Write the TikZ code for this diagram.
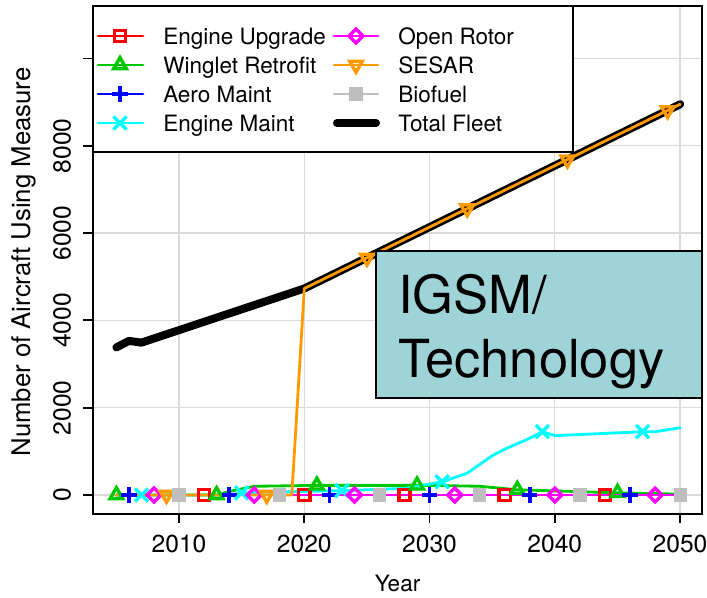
\documentclass[tikz,border=0pt]{standalone}
\usepackage{fontspec}
\setmainfont{TeX Gyre Heros}
\usetikzlibrary{plotmarks}
\definecolor{upgradered}{HTML}{FF0000}
\definecolor{wingletgreen}{HTML}{00C800}
\definecolor{aeroblue}{HTML}{0000FF}
\definecolor{maintcyan}{HTML}{00FFFF}
\definecolor{rotormagenta}{HTML}{FF00FF}
\definecolor{sesarorange}{HTML}{FF9A00}
\definecolor{biofuelgrey}{HTML}{BEBEBE}
\definecolor{gridgrey}{HTML}{DADADA}
\definecolor{igsmteal}{HTML}{9ED3D7}
\tikzset{
  gridline/.style={gridgrey, line width=1pt},
  tickmark/.style={line width=1.3pt},
  frame/.style={line width=2pt},
  ticklabel/.style={inner sep=0pt, font=\fontsize{17.5}{20}\selectfont},
  legtext/.style={anchor=base west, inner sep=0pt},
  series/.style={line width=2pt, line cap=round, line join=round},
  fleet/.style={line width=5.7pt, line cap=round, line join=round},
  every mark/.append style={line width=2.4pt},
  upmark/.style={mark=square, mark size=4pt},
  wingmark/.style={mark=triangle, mark size=5.2pt},
  aeromark/.style={mark=+, mark size=5.4pt},
  maintmark/.style={mark=x, mark size=6.6pt},
  rotormark/.style={mark=square, mark size=3.5pt, mark options={rotate=45, line width=2.4pt}},
  sesarmark/.style={mark=triangle, mark size=5.2pt, mark options={rotate=180, line width=2.4pt}},
  fuelmark/.style={mark=square*, mark size=4.4pt, mark options={fill=biofuelgrey, line width=0.6pt}},
}

\begin{document}
\begin{tikzpicture}[x=0.025cm, y=-0.025cm, font=\fontsize{16}{19}\selectfont]
  \useasboundingbox (0,0) rectangle (707,597);
  % grid, ticks and tick labels
  \foreach \yr in {2010,2020,...,2050} {
    \pgfmathsetmacro{\px}{179+(\yr-2010)*12.525}
    \draw[gridline] (\px,6) -- (\px,514);
    \draw[tickmark] (\px,514) -- (\px,523);
    \node[ticklabel] (x\yr) at (\px,543.5) {\yr};
  }
  \foreach \v in {0,2000,...,10000} {
    \pgfmathsetmacro{\py}{495-\v*0.04365}
    \draw[gridline] (93,\py) -- (702,\py);
    \draw[tickmark] (83,\py) -- (93,\py);
    \ifnum\v<10000 \node[ticklabel, rotate=90] (y\v) at (62,\py) {\v}; \fi
  }
  \node[anchor=base, inner sep=0pt] (xlabel) at (397.5,591.7) {Year};
  \node[anchor=base, inner sep=0pt, rotate=90, font=\fontsize{18.3}{21}\selectfont] (ylabel) at (30,262) {Number of Aircraft Using Measure};

  % series, origin at year 2000 and 0 aircraft
  \begin{scope}[shift={(53.75,495)}, x=0.313125cm, y=1.09125cm]
    \draw[fleet] plot coordinates {(5,3.38) (6,3.53) (7,3.49) (20,4.73) (21,4.87) (50,8.95)};
    \draw[series, biofuelgrey] plot coordinates {(5,0) (50,0)};
    \draw[series, upgradered] plot coordinates {(5,0) (50,0)};
    \draw[series, aeroblue] plot coordinates {(5,0) (50,0)};
    \draw[series, wingletgreen] plot coordinates {(5,0) (13,0) (14,0.08) (16,0.2) (21,0.22) (30,0.22) (34,0.2) (37,0.12) (45,0.05) (50,0.02)};
    \draw[series, maintcyan] plot coordinates {(5,0) (14,0) (15,0.05) (23,0.1) (28,0.15) (30,0.25) (31,0.3) (32,0.4) (33,0.5) (34,0.7) (35,0.9) (36,1.05) (38,1.3) (39,1.45) (40,1.36) (47,1.45) (48,1.45) (50,1.54)};
    \draw[series, rotormagenta] plot coordinates {(5,0) (50,0)};
    \draw[series, sesarorange] plot coordinates {(5,0) (19,0) (20,4.73) (21,4.87) (50,8.95)};
    % markers every eight years
    \draw[upgradered, upmark] plot[only marks] coordinates {(12,0) (20,0) (28,0) (36,0) (44,0)};
    \draw[wingletgreen, wingmark] plot[only marks] coordinates {(5,0) (13,0) (21,0.22) (29,0.22) (37,0.12) (45,0.05)};
    \draw[aeroblue, aeromark] plot[only marks] coordinates {(6,0) (14,0) (22,0) (30,0) (38,0) (46,0)};
    \draw[maintcyan, maintmark] plot[only marks] coordinates {(7,0) (15,0.05) (23,0.1) (31,0.3) (39,1.45) (47,1.45)};
    \draw[rotormagenta, rotormark] plot[only marks] coordinates {(8,0) (16,0) (24,0) (32,0) (40,0) (48,0)};
    \draw[sesarorange, sesarmark] plot[only marks] coordinates {(9,0) (17,0) (25,5.43) (33,6.56) (41,7.68) (49,8.81)};
    \draw[biofuelgrey, fuelmark] plot[only marks] coordinates {(10,0) (18,0) (26,0) (34,0) (42,0) (50,0)};
  \end{scope}

  % legend
  \node[draw, frame, fill=white, minimum width=12cm, minimum height=3.65cm, inner sep=0pt] (legend) at (333,79) {};
  \draw[series, upgradered] (98,36) -- (143,36);
  \draw[upgradered, upmark] plot[only marks] coordinates {(120,36)};
  \node[legtext] (lgUpgrade) at (163,44.2) {Engine Upgrade};
  \draw[series, wingletgreen] (98,65) -- (143,65);
  \draw[wingletgreen, wingmark] plot[only marks] coordinates {(120,65)};
  \node[legtext] (lgWinglet) at (163,73.2) {Winglet Retrofit};
  \draw[series, aeroblue] (98,94) -- (143,94);
  \draw[aeroblue, aeromark] plot[only marks] coordinates {(120,94)};
  \node[legtext] (lgAero) at (163,102.2) {Aero Maint};
  \draw[series, maintcyan] (98,123) -- (143,123);
  \draw[maintcyan, maintmark] plot[only marks] coordinates {(120,123)};
  \node[legtext] (lgMaint) at (163,131.2) {Engine Maint};
  \draw[series, rotormagenta] (334,36) -- (378,36);
  \draw[rotormagenta, rotormark] plot[only marks] coordinates {(356,36)};
  \node[legtext] (lgRotor) at (398,44.2) {Open Rotor};
  \draw[series, sesarorange] (334,65) -- (378,65);
  \draw[sesarorange, sesarmark] plot[only marks] coordinates {(356,65)};
  \node[legtext] (lgSesar) at (398,73.2) {SESAR};
  \draw[series, biofuelgrey] (334,94) -- (378,94);
  \draw[biofuelgrey, fuelmark] plot[only marks] coordinates {(356,94)};
  \node[legtext] (lgFuel) at (398,102.2) {Biofuel};
  \draw[fleet] (337,123) -- (376,123);
  \node[legtext] (lgFleet) at (398,131.2) {Total Fleet};

  % plot frame and the IGSM box
  \draw[frame] (93,6) rectangle (702,514);
  \node[draw, line width=1.2pt, fill=igsmteal, minimum width=8.15cm, minimum height=3.675cm, inner sep=0pt] (igsm) at (539,324.5) {};
  \node[legtext, font=\fontsize{37.3}{45.5}\selectfont] (igsmTop) at (398,313) {IGSM/};
  \node[legtext, font=\fontsize{37.3}{45.5}\selectfont] (igsmBottom) at (398,377) {Technology};
\end{tikzpicture}
\end{document}
